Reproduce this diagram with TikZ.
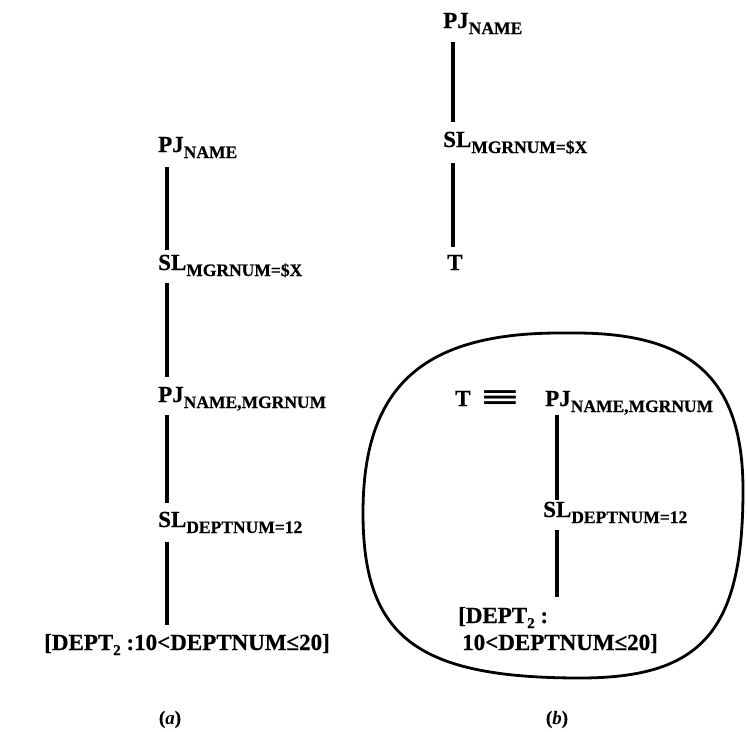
\documentclass[tikz,border=0pt]{standalone}
\usepackage{fontspec}
\setmainfont{Liberation Serif}[BoldFeatures={FakeBold=0.6}]
\newfontfamily\symfont{DejaVu Sans}
% lowered, smaller subscript text of an operator
\newcommand\low[1]{\raisebox{-6pt}{\fontsize{17.5}{18}\selectfont #1}}
\newcommand\lowdigit[1]{\raisebox{-5pt}{\fontsize{15}{16}\selectfont #1}}
\begin{document}
\begin{tikzpicture}[x=1pt,y=-1pt,
  op/.style={inner sep=0pt, anchor=base west, font=\fontsize{23}{26}\selectfont\bfseries},
  edge/.style={line width=3.6pt},
  blob/.style={line width=2.8pt, line join=round},
  caption/.style={inner sep=0pt, anchor=base, font=\fontsize{19}{22}\selectfont\bfseries}]
\useasboundingbox (0,0) rectangle (747,731);

% ---------- (a): full query tree ----------
\node[op] (a1) at (158,152) {PJ\low{NAME}};
\node[op] (a2) at (158,270) {SL\low{MGRNUM=\$X}};
\node[op] (a3) at (158,402) {PJ\low{NAME,MGRNUM}};
\node[op] (a4) at (158,527) {SL\low{DEPTNUM=12}};
\node[op, anchor=base east] (a5) at (330,650) {[DEPT\lowdigit{2} :10<DEPTNUM≤20]};
\coordinate (a5top) at (167,625);

\draw[edge] ([shift={(9,15)}]a1.base west) -- ([shift={(9,-20)}]a2.base west);
\draw[edge] ([shift={(9,13)}]a2.base west) -- ([shift={(9,-25)}]a3.base west);
\draw[edge] ([shift={(9,13)}]a3.base west) -- ([shift={(9,-24)}]a4.base west);
\draw[edge] ([shift={(9,15)}]a4.base west) -- (a5top);

% ---------- (b): tree over the view T ----------
\node[op] (b1) at (443,28) {PJ\low{NAME}};
\node[op] (b2) at (443,147) {SL\low{MGRNUM=\$X}};
\node[op] (b3) at (447,270) {T};

\draw[edge] ([shift={(10,14)}]b1.base west) -- ([shift={(10,-25)}]b2.base west);
\draw[edge] ([shift={(10,16)}]b2.base west) -- ([shift={(6,-23)}]b3.base west);

% definition of T, enclosed in a rounded outline
\draw[blob] (363,513) .. controls (363,387) and (422,333) .. (560,333)
  -- (575,333) .. controls (693,333) and (743,380) .. (743,490)
  .. controls (743,631) and (702,678) .. (580,678)
  .. controls (417,678) and (363,637) .. (363,513) -- cycle;

\node[op] (t) at (455,406) {T};
\node[inner sep=0pt, anchor=base] (eq) at (500,405)
  {\scalebox{2.3}[1.15]{\fontsize{22}{24}\symfont\bfseries ≡}};
\node[op] (c1) at (545,406) {PJ\low{NAME,MGRNUM}};
\node[op] (c2) at (543,517) {SL\low{DEPTNUM=12}};
\node[op] (c3) at (458,623) {[DEPT\lowdigit{2} :};
\node[op] (c4) at (462,650) {10<DEPTNUM≤20]};

\draw[edge] ([shift={(12,9)}]c1.base west) -- ([shift={(14,-17)}]c2.base west);
\draw[edge] ([shift={(14,13)}]c2.base west) -- ([shift={(99,-26)}]c3.base west);

% ---------- captions ----------
\node[caption] (capa) at (170,724) {(\textit{a})};
\node[caption] (capb) at (557,724) {(\textit{b})};
\end{tikzpicture}
\end{document}
